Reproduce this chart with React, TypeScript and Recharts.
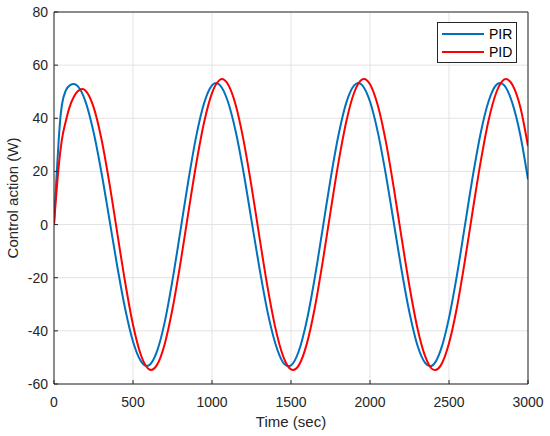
import { LineChart, Line, XAxis, YAxis, CartesianGrid, Legend } from 'recharts';

// PIR (blue): time (sec) -> control action (W)
const PIR_T = [
  0, 10, 20, 30, 40, 50, 75, 100, 125, 150, 200, 250, 300, 350, 400, 450, 500, 550, 588,
  600, 650, 700, 750, 800, 850, 900, 950, 1000, 1025, 1050, 1100, 1150, 1200, 1250, 1300,
  1350, 1400, 1450, 1484, 1500, 1550, 1600, 1650, 1700, 1750, 1800, 1850, 1900, 1925, 1950,
  2000, 2050, 2100, 2150, 2200, 2250, 2300, 2350, 2380, 2400, 2450, 2500, 2550, 2600, 2650,
  2700, 2750, 2800, 2823, 2850, 2900, 2950, 3000,
];
const PIR_V = [
  0, 12, 22, 32, 40, 45, 50.5, 52.4, 52.9, 52.1, 46.2, 34.9, 19.7, 2.2, -15.6, -31.6, -44.0, -51.4, -53.2,
  -53.0, -48.0, -36.9, -20.9, -2.4, 16.4, 33.2, 45.7, 52.4, 53.3, 52.5, 46.4, 35.0, 19.5, 1.6, -16.3,
  -32.4, -44.6, -51.9, -53.3, -53.0, -47.5, -36.1, -20.2, -1.7, 17.0, 33.5, 45.9, 52.4, 53.3, 52.5,
  46.3, 34.6, 18.9, 0.9, -17.2, -33.2, -45.4, -52.1, -53.3, -52.8, -46.8, -35.1, -19.1, -0.6, 18.0,
  34.3, 46.3, 52.6, 53.3, 52.4, 45.9, 34.1, 17.0,
];

// PID (red)
const PID_T = [
  0, 10, 25, 50, 75, 100, 125, 150, 180, 200, 250, 300, 350, 400, 450, 500, 550, 600, 614,
  650, 700, 750, 800, 850, 900, 950, 1000, 1050, 1063, 1100, 1150, 1200, 1250, 1300, 1350,
  1400, 1450, 1500, 1513, 1550, 1600, 1650, 1700, 1750, 1800, 1850, 1900, 1950, 1962, 2000,
  2050, 2100, 2150, 2200, 2250, 2300, 2350, 2400, 2412, 2450, 2500, 2550, 2600, 2650, 2700,
  2750, 2800, 2850, 2861, 2900, 2950, 3000,
];
const PID_V = [
  0, 8, 19, 32, 39, 44.5, 48, 50.2, 51, 50.4, 44.3, 32.3, 15.8, -3.0, -21.6, -37.7, -49.1, -54.4, -54.7,
  -53.0, -45.1, -31.7, -14.6, 4.4, 22.8, 38.5, 49.5, 54.5, 54.8, 52.9, 45.0, 31.6, 14.4, -4.6, -23.0,
  -38.6, -49.5, -54.5, -54.7, -52.9, -44.9, -31.5, -14.2, 4.8, 23.2, 38.8, 49.7, 54.6, 54.8, 52.8,
  44.7, 31.3, 14.0, -5.0, -23.3, -38.9, -49.7, -54.6, -54.7, -52.8, -44.7, -31.2, -13.8, 5.2, 23.5,
  39.1, 49.8, 54.6, 54.8, 52.7, 44.5, 29.5,
];

const X_TICKS = [0, 500, 1000, 1500, 2000, 2500, 3000];
const Y_TICKS = [-60, -40, -20, 0, 20, 40, 60, 80];

const BLUE = '#0072BD';
const RED = '#FF0000';
const AXIS = '#262626';
const FONT = '"Liberation Sans", Arial, sans-serif';

const pir = PIR_T.map((t, i) => ({ t, v: PIR_V[i] }));
const pid = PID_T.map((t, i) => ({ t, v: PID_V[i] }));

function MatlabLegend() {
  return (
    <div
      style={{
        position: 'absolute',
        left: 437,
        top: 22,
        width: 80,
        height: 41,
        border: `1px solid ${AXIS}`,
        background: '#fff',
        fontFamily: FONT,
        fontSize: 14,
        color: '#000',
        boxSizing: 'border-box',
      }}
    >
      {[
        { name: 'PIR', color: BLUE },
        { name: 'PID', color: RED },
      ].map((s, i) => (
        <div
          key={s.name}
          style={{ position: 'absolute', left: 4, top: 3 + i * 18, height: 16, display: 'flex', alignItems: 'center' }}
        >
          <span style={{ display: 'inline-block', width: 42, height: 2, background: s.color }} />
          <span style={{ marginLeft: 5 }}>{s.name}</span>
        </div>
      ))}
    </div>
  );
}

export default function App() {
  return (
    <div style={{ position: 'absolute', left: 0, top: 0, width: 550, height: 436, background: '#fff' }}>
      <LineChart width={550} height={436} margin={{ top: 11, right: 21, bottom: 0, left: 0 }}>
        <CartesianGrid stroke="#e3e3e3" strokeWidth={1} xAxisId="b" yAxisId="l" verticalValues={X_TICKS} horizontalValues={Y_TICKS} />
        <XAxis
          xAxisId="b"
          type="number"
          dataKey="t"
          domain={[0, 3000]}
          ticks={X_TICKS}
          allowDataOverflow
          height={52}
          stroke={AXIS}
          tickSize={-4}
          tickMargin={17}
          tick={{ fill: AXIS, fontSize: 14, fontFamily: FONT }}
          label={{ value: 'Time (sec)', position: 'insideBottom', offset: 9, fill: AXIS, fontSize: 15, fontFamily: FONT }}
        />
        <XAxis
          xAxisId="t"
          orientation="top"
          type="number"
          dataKey="t"
          domain={[0, 3000]}
          ticks={X_TICKS}
          height={1}
          stroke={AXIS}
          tickSize={4}
          tickMargin={0}
          tick={() => <g />}
        />
        <YAxis
          yAxisId="l"
          type="number"
          domain={[-60, 80]}
          ticks={Y_TICKS}
          width={54}
          stroke={AXIS}
          tickSize={-4}
          tickMargin={10}
          tick={{ fill: AXIS, fontSize: 14, fontFamily: FONT }}
          label={{ value: 'Control action (W)', angle: -90, position: 'insideLeft', offset: 13, fill: AXIS, fontSize: 15, fontFamily: FONT, style: { textAnchor: 'middle' } }}
        />
        <YAxis
          yAxisId="r"
          orientation="right"
          type="number"
          domain={[-60, 80]}
          ticks={Y_TICKS}
          width={1}
          stroke={AXIS}
          tickSize={4}
          tickMargin={0}
          tick={() => <g />}
        />
        <Line xAxisId="b" yAxisId="l" data={pir} dataKey="v" name="PIR" type="monotone" stroke={BLUE} strokeWidth={2} dot={false} isAnimationActive={false} />
        <Line xAxisId="b" yAxisId="l" data={pid} dataKey="v" name="PID" type="monotone" stroke={RED} strokeWidth={2} dot={false} isAnimationActive={false} />
        <Legend content={() => null} />
      </LineChart>
      <MatlabLegend />
    </div>
  );
}
